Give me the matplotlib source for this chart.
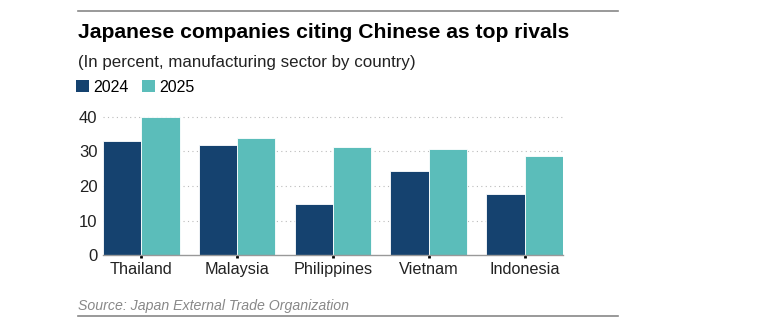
import matplotlib
matplotlib.use("Agg")
import matplotlib.pyplot as plt
import numpy as np
from matplotlib.patches import Patch
from matplotlib.lines import Line2D

countries = ["Thailand", "Malaysia", "Philippines", "Vietnam", "Indonesia"]
years = ["2024", "2025"]
values_2024 = [33.1, 31.9, 14.9, 24.4, 17.6]
values_2025 = [40.0, 33.9, 31.2, 30.6, 28.8]
yticks = [0, 10, 20, 30, 40]

c2024 = "#15426F"
c2025 = "#5BBDBA"

plt.rcParams['font.family'] = ['Liberation Sans', 'DejaVu Sans']

W, H = 762, 325
fig = plt.figure(figsize=(W / 100, H / 100), dpi=100)

ymax = 41
px_per_unit = 3.465
y0_px = 255.3
top_px = y0_px - ymax * px_per_unit
left_px, right_px = 103, 563
ax = fig.add_axes([left_px / W, 1 - y0_px / H, (right_px - left_px) / W, (y0_px - top_px) / H])

x = np.arange(len(countries))
bw = 0.4
ax.bar(x - bw / 2, values_2024, width=bw, color=c2024, edgecolor="white", linewidth=0.6, zorder=3)
ax.bar(x + bw / 2, values_2025, width=bw, color=c2025, edgecolor="white", linewidth=0.6, zorder=3)

ax.set_xlim(-0.4, len(countries) - 0.6)
ax.set_ylim(0, ymax)
ax.set_yticks(yticks)
ax.set_yticklabels([str(v) for v in yticks], fontsize=12, color="#222222")
ax.set_xticks(x)
ax.set_xticklabels(countries, fontsize=11.7, color="#222222")
ax.tick_params(axis='y', length=0, pad=4)
ax.tick_params(axis='x', length=2.5, width=2, color="black", pad=2)
for v in yticks[1:]:
    ax.axhline(v, color="#bbbbbb", linestyle=(0, (1, 3)), linewidth=0.8, zorder=1)
for s in ["top", "right", "left"]:
    ax.spines[s].set_visible(False)
ax.spines["bottom"].set_color("#999999")
ax.spines["bottom"].set_linewidth(1.0)
ax.spines["bottom"].set_zorder(4)

# Header / footer
fig.add_artist(Line2D([78 / W, 618 / W], [1 - 11 / H, 1 - 11 / H], color="#888888", linewidth=1.2))
fig.add_artist(Line2D([78 / W, 618 / W], [1 - 316 / H, 1 - 316 / H], color="#888888", linewidth=1.2))
fig.text(78 / W, 1 - 32.5 / H, "Japanese companies citing Chinese as top rivals", fontsize=15.2,
         fontweight="bold", color="#000000", va="center", ha="left")
fig.text(78 / W, 1 - 62 / H, "(In percent, manufacturing sector by country)", fontsize=12.2,
         color="#222222", va="center", ha="left")
fig.text(78 / W, 1 - 306 / H, "Source: Japan External Trade Organization", fontsize=10.2,
         color="#888888", style="italic", va="center", ha="left")

handles = [Patch(facecolor=c2024), Patch(facecolor=c2025)]
fig.legend(handles, years, loc="center left", bbox_to_anchor=(76 / W, 1 - 87 / H), ncol=2,
           frameon=False, fontsize=11.5, handlelength=0.8, handleheight=0.8,
           handletextpad=0.3, columnspacing=0.8, borderaxespad=0, borderpad=0)

fig.savefig("out.png", dpi=100)
